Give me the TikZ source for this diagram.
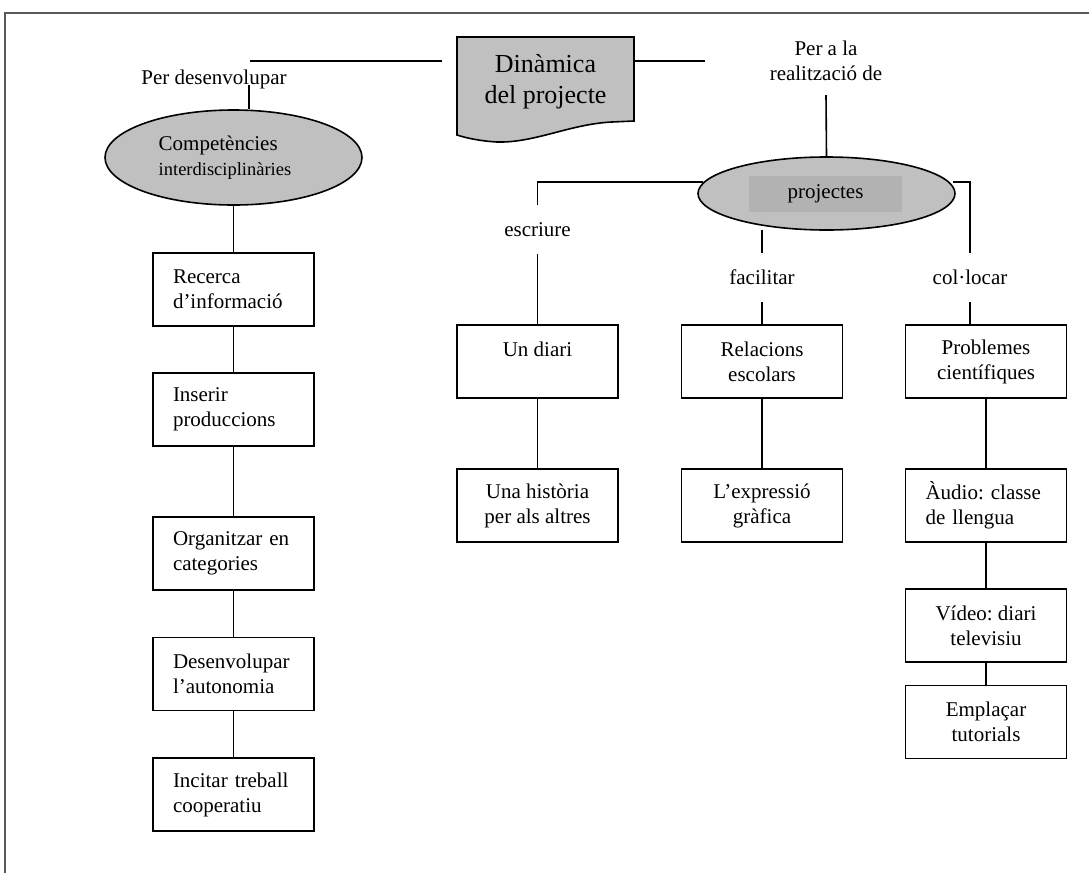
\documentclass[tikz,border=0pt]{standalone}
\usepackage{fontspec}
\setmainfont{Liberation Serif}
\usetikzlibrary{shapes.geometric}
\definecolor{fillgray}{HTML}{C0C0C0}
\definecolor{innergray}{HTML}{B2B2B2}
\definecolor{framegray}{HTML}{5A5A5A}
\frenchspacing
\begin{document}
\begin{tikzpicture}[x=1pt,y=-1pt,
  font=\fontsize{21}{25}\selectfont,
  box/.style={draw, line width=1.8pt, minimum width=161pt, minimum height=73pt, inner sep=0pt, align=center},
  lbox/.style={box, align=left, text width=121pt, inner xsep=20pt},
  conn/.style={line width=1.6pt},
  oval/.style={draw, ellipse, fill=fillgray, line width=1.6pt, inner sep=0pt},
  lbl/.style={inner sep=0pt, minimum height=48pt}]
\useasboundingbox (0,0) rectangle (1089,873);
% frame
\draw[framegray, line width=2pt] (5,873) -- (5,12.5) -- (1089,12.5);
% title document shape
\draw[line width=1.6pt, fill=fillgray] (457,37) -- (634,37) -- (634,121) -- (612,122)
  .. controls (570,124) and (535,143) .. (497,142)
  .. controls (480,141) and (466,138) .. (457,135) -- cycle;
\node[align=center, inner sep=0pt, font=\fontsize{26}{31}\selectfont] (dyn) at (545.5,82) {Dinàmica\\del projecte};
% left side
\node[inner sep=0pt] (pd) at (214,79) {Per desenvolupar};
\node[oval, minimum width=257pt, minimum height=95pt] (comp) at (233.5,157.5) {};
\node[align=left, inner sep=0pt] (compt) at (225,157.5)
  {Competències\\{\fontsize{18.5}{22}\selectfont interdisciplinàries}};
\node[lbox] (rec) at (233.5,289.5) {Recerca\\d’informació};
\node[lbox] (ins) at (233.5,409.5) {Inserir\\produccions};
\node[lbox] (org) at (233.5,553.5) {Organitzar en\\categories};
\node[lbox] (des) at (233.5,674) {Desenvolupar\\l’autonomia};
\node[lbox] (inc) at (233.5,794.5) {Incitar treball\\cooperatiu};
% right side
\node[inner sep=0pt, align=center] (pr) at (826,61) {Per a la\\realització de};
\node[oval, minimum width=257pt, minimum height=73pt] (proj) at (826.5,193.5) {};
\node[fill=innergray, minimum width=153pt, minimum height=36pt, inner sep=0pt] (projlbl) at (825.5,194) {\raisebox{3pt}{projectes}};
\node[lbl] (esc) at (537.5,229.5) {escriure};
\node[lbl, minimum height=49pt] (fac) at (762,277.5) {facilitar};
\node[lbl, minimum height=49pt] (col) at (970,277.5) {col·locar};
\node[box] (diari) at (537.5,361.5) {Un diari\\\mbox{}};
\node[box] (hist) at (537.5,505.5) {Una història\\per als altres};
\node[box] (rel) at (762,361.5) {Relacions\\escolars};
\node[box] (exp) at (762,505.5) {L’expressió\\gràfica};
\node[box] (prob) at (986,361.5) {Problemes\\científiques};
\node[lbox] (audio) at (986,505.5) {Àudio: classe\\de llengua};
\node[box] (video) at (986,625.5) {Vídeo: diari\\televisiu};
\node[box] (empl) at (986,722) {Emplaçar\\tutorials};
% connectors
\coordinate (l1) at (250,61);
\coordinate (l2) at (442,61);
\coordinate (r1) at (634,61);
\coordinate (r2) at (705,61);
\draw[conn] (l1) -- (l2);
\draw[conn] (r1) -- (r2);
\coordinate (pdv) at ([xshift=35pt,yshift=-6pt]pd.center);
\draw[conn] (pdv) -- (pdv |- comp.north);
\draw[conn] (comp.south) -- (rec.north);
\draw[conn] (rec.south) -- (ins.north);
\draw[conn] (ins.south) -- (org.north);
\draw[conn] (org.south) -- (des.north);
\draw[conn] (des.south) -- (inc.north);
\draw[conn] ([yshift=-14pt]pr.south) -- (proj.north);
\draw[conn] ([xshift=6pt,yshift=11.5pt]proj.west) -| (esc.north);
\draw[conn] (esc.south) -- (diari.north);
\draw[conn] (fac.north) -- ++(0,-23);
\draw[conn] (fac.south) -- (rel.north);
\draw[conn] ([xshift=-3pt,yshift=11.5pt]proj.east) -| (col.north);
\draw[conn] (col.south) -- (col.south |- prob.north);
\draw[conn] (diari.south) -- (hist.north);
\draw[conn] (rel.south) -- (exp.north);
\draw[conn] (prob.south) -- (audio.north);
\draw[conn] (audio.south) -- (video.north);
\draw[conn] (video.south) -- (empl.north);
\end{tikzpicture}
\end{document}
